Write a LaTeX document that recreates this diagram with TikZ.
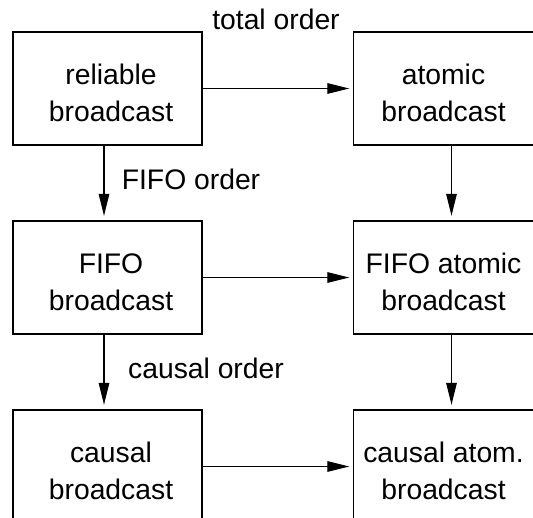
\documentclass[tikz,border=0pt]{standalone}
\usepackage{fontspec}
\setmainfont{Liberation Sans}
\usetikzlibrary{arrows.meta}
\tikzset{
  box/.style={draw=black, line width=1.3pt, rectangle, inner sep=0pt, minimum height=113pt},
  lbox/.style={box, minimum width=189pt},
  rbox/.style={box, minimum width=182pt},
  txt/.style={anchor=base, inner sep=0pt, font=\fontsize{28.3}{34}\selectfont},
  arr/.style={line width=1.2pt, -{Triangle[length=22pt,width=10.5pt]}}
}
\begin{document}
\begin{tikzpicture}[x=1pt,y=-1pt]
\useasboundingbox (0,0) rectangle (533,517);
\clip (0,0) rectangle (533,517);
% boxes
\node[lbox] (rb) at (107.5,88.5) {};
\node[rbox] (ab) at (444.5,88.5) {};
\node[lbox] (fb) at (107.5,277.5) {};
\node[rbox] (fab) at (444.5,277.5) {};
\node[lbox] (cb) at (107.5,466.5) {};
\node[rbox] (cab) at (444.5,466.5) {};
% box texts
\node[txt] (rb1) at (111,84.5) {reliable};
\node[txt] (rb2) at (111,121.5) {broadcast};
\node[txt] (ab1) at (443.5,84.5) {atomic};
\node[txt] (ab2) at (443.5,121.5) {broadcast};
\node[txt] (fb1) at (111,273.5) {FIFO};
\node[txt] (fb2) at (111,310.5) {broadcast};
\node[txt] (fab1) at (443.5,273.5) {FIFO atomic};
\node[txt] (fab2) at (443.5,310.5) {broadcast};
\node[txt] (cb1) at (111,462.5) {causal};
\node[txt] (cb2) at (111,499.5) {broadcast};
\node[txt] (cab1) at (443.5,462.5) {causal atom.};
\node[txt] (cab2) at (443.5,499.5) {broadcast};
% edge labels
\node[txt] (lt) at (276,29.5) {total order};
\node[txt] (lf) at (191,189.3) {FIFO order};
\node[txt] (lc) at (206,378.7) {causal order};
% horizontal arrows
\draw[arr, shorten >=3.5pt] (rb.east) -- (ab.west);
\draw[arr, shorten >=3.5pt] (fb.east) -- (fab.west);
\draw[arr, shorten >=3.5pt] (cb.east) -- (cab.west);
% vertical arrows
\draw[arr, shorten >=4.5pt] ([xshift=-3.5pt]rb.south) -- ([xshift=-3.5pt]fb.north);
\draw[arr, shorten >=4.5pt] ([xshift=-3.5pt]fb.south) -- ([xshift=-3.5pt]cb.north);
\draw[arr, shorten >=4.5pt] ([xshift=7pt]ab.south) -- ([xshift=7pt]fab.north);
\draw[arr, shorten >=4.5pt] ([xshift=7pt]fab.south) -- ([xshift=7pt]cab.north);
\end{tikzpicture}
\end{document}
